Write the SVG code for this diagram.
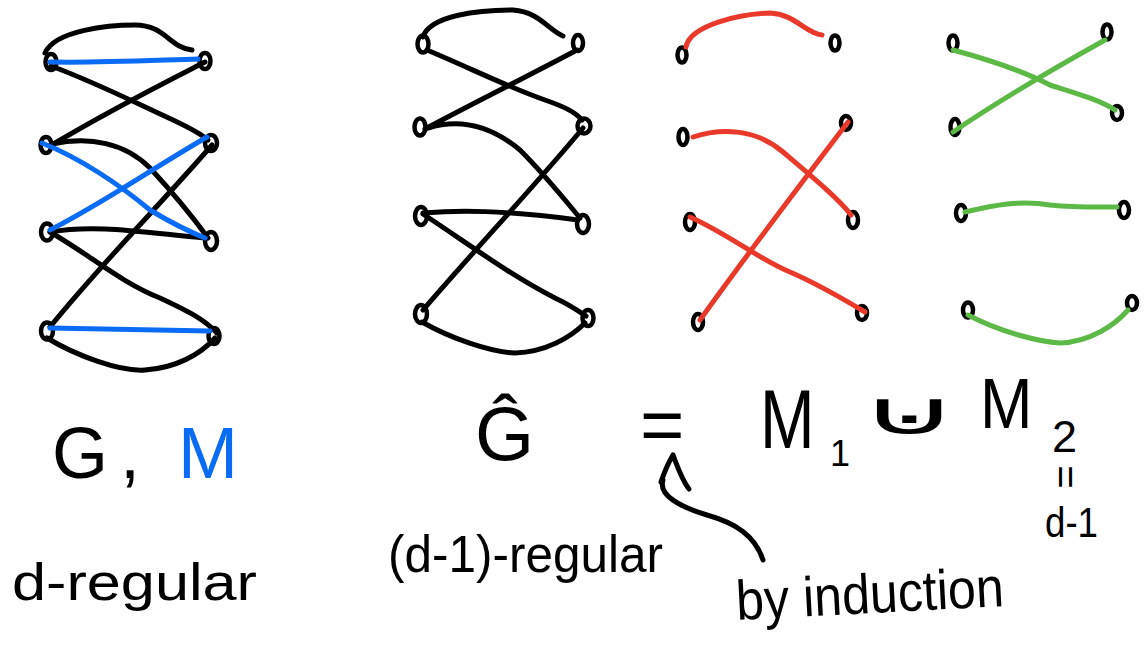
<svg xmlns="http://www.w3.org/2000/svg" width="1146" height="648" viewBox="0 0 1146 648">
<style>
.node{fill:none;stroke:#000;stroke-width:4.5}
.e{fill:none;stroke-width:5;stroke-linecap:round;stroke-linejoin:round}
.k{stroke:#000}
.b{stroke:#0a6cf5}
.r{stroke:#e8392a}
.g{stroke:#5cb946}
.t{font-family:"Liberation Sans",Arial,sans-serif;fill:#000}
</style>
<rect width="1146" height="648" fill="#fff"/>
<!-- Graph G -->
<g id="G-L1"><ellipse class="node" cx="51" cy="62" rx="5.5" ry="8"/></g>
<g id="G-R1"><ellipse class="node" cx="205" cy="61" rx="5.5" ry="8"/></g>
<g id="G-L2"><ellipse class="node" cx="46" cy="145" rx="5.5" ry="8"/></g>
<g id="G-R2"><ellipse class="node" cx="211" cy="143" rx="6" ry="8"/></g>
<g id="G-L3"><ellipse class="node" cx="47" cy="232" rx="6" ry="8.5"/></g>
<g id="G-R3"><ellipse class="node" cx="211" cy="241" rx="6" ry="9"/></g>
<g id="G-L4"><ellipse class="node" cx="47" cy="331" rx="6" ry="8.5"/></g>
<g id="G-R4"><ellipse class="node" cx="214" cy="336" rx="5.5" ry="8"/></g>
<!-- Graph G hat -->
<g id="H-L1"><ellipse class="node" cx="423" cy="44" rx="5.5" ry="8.5"/></g>
<g id="H-R1"><ellipse class="node" cx="578" cy="43" rx="5" ry="8"/></g>
<g id="H-L2"><ellipse class="node" cx="420" cy="127" rx="5.5" ry="8.5"/></g>
<g id="H-R2"><ellipse class="node" cx="584" cy="126" rx="6.5" ry="7.5"/></g>
<g id="H-L3"><ellipse class="node" cx="421" cy="216" rx="6" ry="9"/></g>
<g id="H-R3"><ellipse class="node" cx="583" cy="224" rx="6" ry="9"/></g>
<g id="H-L4"><ellipse class="node" cx="421" cy="314" rx="6" ry="9"/></g>
<g id="H-R4"><ellipse class="node" cx="588" cy="318" rx="5.5" ry="8"/></g>
<!-- M1 -->
<g id="M1-L1"><ellipse class="node" cx="682" cy="55" rx="4.5" ry="7.5"/></g>
<g id="M1-R1"><ellipse class="node" cx="835" cy="43" rx="4.5" ry="7.5"/></g>
<g id="M1-L2"><ellipse class="node" cx="683" cy="137" rx="4.5" ry="8"/></g>
<g id="M1-R2"><ellipse class="node" cx="846" cy="123" rx="5" ry="7"/></g>
<g id="M1-L3"><ellipse class="node" cx="690" cy="222" rx="5" ry="8"/></g>
<g id="M1-R3"><ellipse class="node" cx="853" cy="220" rx="5" ry="8"/></g>
<g id="M1-L4"><ellipse class="node" cx="698" cy="322" rx="5" ry="8"/></g>
<g id="M1-R4"><ellipse class="node" cx="862" cy="313" rx="5" ry="7"/></g>
<!-- M2 -->
<g id="M2-L1"><ellipse class="node" cx="953" cy="43" rx="4.5" ry="7.5"/></g>
<g id="M2-R1"><ellipse class="node" cx="1107" cy="32" rx="4.5" ry="7.5"/></g>
<g id="M2-L2"><ellipse class="node" cx="955" cy="127" rx="4.5" ry="8"/></g>
<g id="M2-R2"><ellipse class="node" cx="1117" cy="113" rx="5" ry="7"/></g>
<g id="M2-L3"><ellipse class="node" cx="961" cy="213" rx="5" ry="8"/></g>
<g id="M2-R3"><ellipse class="node" cx="1124" cy="210" rx="5" ry="8"/></g>
<g id="M2-L4"><ellipse class="node" cx="968" cy="310" rx="5" ry="7.5"/></g>
<g id="M2-R4"><ellipse class="node" cx="1132" cy="303" rx="5" ry="7"/></g>
<g id="connectors">
<!-- G black -->
<path class="e k" d="M45,53 C55,30 110,25 135,25 C165,25 170,48 192,50"/>
<path class="e k" d="M51,66 C95,82 140,105 173,120 C190,128 200,133 208,140"/>
<path class="e k" d="M205,62 C160,85 110,110 50,146"/>
<path class="e k" d="M52,144 C90,136 125,143 150,168 C175,195 195,220 208,238"/>
<path class="e k" d="M212,145 C160,205 100,265 50,327"/>
<path class="e k" d="M50,232 C95,224 140,232 205,238"/>
<path class="e k" d="M50,232 C90,255 120,282 160,298 C190,312 205,320 217,333"/>
<path class="e k" d="M47,338 C75,355 120,372 145,370 C175,368 200,355 215,338"/>
<!-- G blue M -->
<path class="e b" d="M50,62 C100,63 160,60 198,59"/>
<path class="e b" d="M42,143 C80,158 120,185 150,210 C175,225 190,232 205,238"/>
<path class="e b" d="M50,230 C100,205 150,170 207,137"/>
<path class="e b" d="M50,328 C100,329 160,330 210,331"/>
<!-- G hat -->
<path class="e k" d="M423,37 C430,15 480,10 513,10 C540,12 548,30 563,36"/>
<path class="e k" d="M427,50 C470,68 510,88 545,100 C565,107 575,112 582,120"/>
<path class="e k" d="M577,50 C530,75 470,105 425,129"/>
<path class="e k" d="M428,128 C460,118 490,125 520,150 C545,175 565,200 580,218"/>
<path class="e k" d="M583,128 C540,180 470,255 423,310"/>
<path class="e k" d="M423,213 C460,210 500,210 578,220"/>
<path class="e k" d="M423,214 C470,245 510,275 555,298 C570,305 580,312 586,316"/>
<path class="e k" d="M422,322 C450,338 490,352 515,353 C545,352 570,338 585,323"/>
<!-- M1 red -->
<path class="e r" d="M686,47 C690,25 740,14 770,13 C795,14 805,33 822,35"/>
<path class="e r" d="M693,137 C720,128 755,128 783,152 C810,175 840,200 851,215"/>
<path class="e r" d="M848,122 C800,185 750,250 700,320"/>
<path class="e r" d="M690,217 C730,235 760,260 790,272 C820,285 845,300 865,312"/>
<!-- M2 green -->
<path class="e g" d="M953,50 C990,60 1025,72 1050,85 C1075,93 1100,100 1115,110"/>
<path class="e g" d="M1105,40 C1060,65 1000,100 953,132"/>
<path class="e g" d="M965,212 C995,205 1020,200 1050,205 C1080,208 1100,207 1117,207"/>
<path class="e g" d="M968,315 C1000,332 1040,342 1060,343 C1090,342 1115,325 1128,310"/>
<!-- induction arrow -->
<path class="e k" d="M763,560 C755,535 735,523 707,515 C680,507 658,495 663,480"/>
<path class="e k" d="M661,482 C665,470 670,460 673,455 C678,468 682,480 689,489"/>
</g>
<g id="labels">
<text class="t" font-size="72" y="478"><tspan x="52">G</tspan><tspan x="120">,</tspan><tspan x="178" fill="#0a6cf5">M</tspan></text>
<text class="t" font-size="52" x="12" y="600" textLength="245" lengthAdjust="spacingAndGlyphs">d-regular</text>
<text class="t" font-size="76" x="475" y="460">Ĝ</text>
<text class="t" font-size="52" x="388" y="572" textLength="275" lengthAdjust="spacingAndGlyphs">(d-1)-regular</text>
<text class="t" font-size="76" x="640" y="451">=</text>
<text class="t" font-size="84" transform="translate(760,448) scale(0.78,1)">M</text>
<text class="t" font-size="36" x="830" y="466">1</text>
<text class="t" font-size="60" x="859" y="434" textLength="100" lengthAdjust="spacingAndGlyphs" style="font-family:'DejaVu Sans',sans-serif">⊍</text>
<text class="t" font-size="70" transform="translate(980,428) scale(0.9,1)">M</text>
<text class="t" font-size="45" x="1052" y="452">2</text>
<text class="t" font-size="40" transform="translate(1066,477) rotate(90)" text-anchor="middle" y="14">=</text>
<text class="t" font-size="42" x="1045" y="537" textLength="53" lengthAdjust="spacingAndGlyphs">d-1</text>
<text class="t" font-size="56" x="737" y="620" textLength="268" lengthAdjust="spacingAndGlyphs" transform="rotate(-3 737 620)">by induction</text>
</g>
</svg>
